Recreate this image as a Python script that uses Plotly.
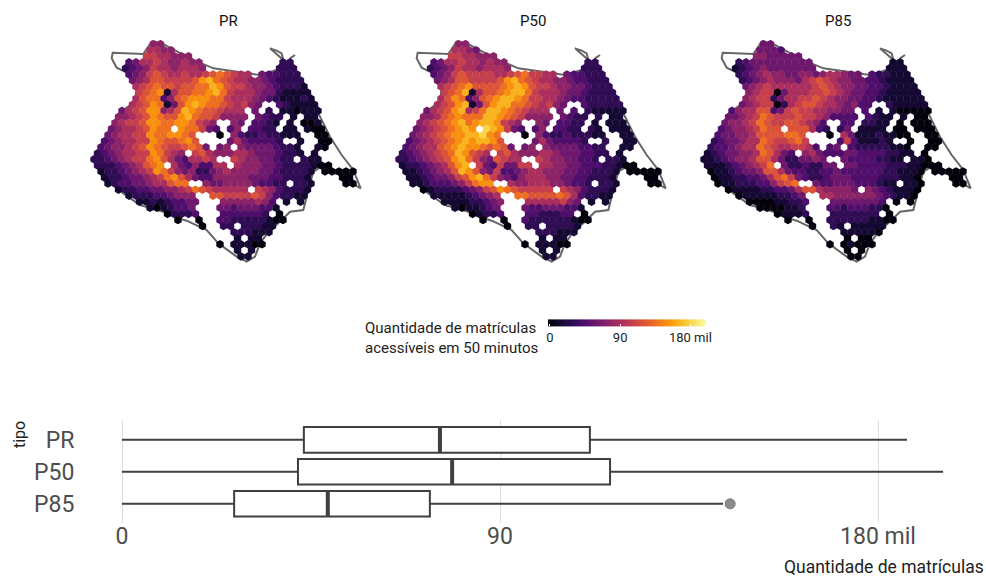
import plotly.graph_objects as go

# Map cells: each row is "first_column:levels", level = hex digit, 1 step = 15 mil, "." = no cell
PR_ROWS = [
"8:55","8:6655","7:7766555","5:34 7:667655655 27:22","4:234576656665 26:222",
"5:345787667667898766 24:433222",
"5:456887777" "8ab98766" "55432222",
"6:6789887889" "9ba8776554" "32221",
"6:789a168899" "ab97666544" "21111",
"6:68993589aa" "a997666543" "211121",
"5:678a9148ab" "a99876754." ".321111",
"4:4678aa568b" "a9887666.4" ".2.110111",
"3:55678a988a" "b98875555." "4322.1.11",
"3:56778aa99a" "a9765..54." "3321.1.001",
"2:456678a99." "a99743.35." "3322.11.100",
"2:456677a99a" "a98...0.53" "22322111..00",
"1:3456677a98" "89a8....46" "433332..1..00",
"1:3455678a98" "778984.45." "544443221..10",
"0:23456677a9" "765.786555" "6654443221.1",
"0:223456779a" "86436676.." "765544322.211",
"0:222345689a" ".64353366." "65554432222100",
"1:12234567a9" "7545224565" "55544322221 33:00000",
"1:1223445679" "a864335555" "5444332221 35:00",
"2:1233445668" "99..544555" "543322.221 36:00",
"3:1223344556" "798766666." "76532221",
"5:1222334555" "..8877778" "7532211",
"6:112123344" ".." ".55555653" ".1.1",
"8:1012334" "..." "443444331",
"10:02223" "..." "3333332.0",
"12:0 15:0 18:3322222100","15:0 18:22.22211","20:222111","20:1.11","18:0 20:11100","20:1.1","21:11",
]
P50_ROWS = [
"8:55","8:6654","7:7766555","5:34 7:667665655 27:22","4:234576656665 26:222",
"5:345787777667897766 24:433222",
"5:456887777" "8ab98766" "55433222",
"6:6789a88889" "aba8776554" "43222",
"6:789b16889a" "bb97666544" "32222",
"6:68a93589ab" "ba97766543" "322222",
"5:678ab148ab" "b99876754." ".322222",
"4:4678ab679b" "ba987666.4" ".3.211111",
"3:55689a999b" "ba9875555." "4322.2.11",
"3:56789ab9ab" "ba765..54." "3322.1.111",
"2:456789aba." "cba743.35." "3322.21.111",
"2:456789aabb" "ca9...0.53" "22322211..11",
"1:3456789aba" "bba8....46" "433332..2..11",
"1:3456689aba" "a98984.45." "544443322..11",
"0:23456789ba" "876.786555" "6654443322.1",
"0:22345678ab" "97548766.." "765544332.221",
"0:12234568ab" ".74374477." "66554433322100",
"1:11234568ba" "8547334566" "55544332221 33:00000",
"1:112344578a" "b975435666" "5544332221 35:00",
"2:1123334579" "aa..655666" "554332.221 36:00",
"3:0122223457" "8a9877777." "76532221",
"5:1111123456" "..9988889" "8632211",
"6:111122345" ".." ".66666754" ".1.1",
"8:1011234" "..." "433444331",
"10:01223" "..." "3322233.0",
"12:0 15:0 18:3222222100","15:0 18:22.22221","20:222111","20:1.11","18:0 20:11100","20:1.1","21:11",
]
P85_ROWS = [
"8:44","8:4443","7:5544444","5:23 7:444444444 27:11","4:123454444444 26:111",
"5:234565544554566544 24:322111",
"5:234565554" "67876554" "43321111",
"6:4567666666" "7876554433" "21111",
"6:5677046667" "7876544332" "11111",
"6:5677246677" "8765544332" "111111",
"5:4567702678" "876654533." ".211111",
"4:3566883478" "77665544.3" ".1.100000",
"3:4456798777" "877653333." "3211.1.00",
"3:4556798778" "87653..33." "2211.0.000",
"2:345567988." "888632.24." "1111.00.000",
"2:3445568888" "998...0.64" "11121100..00",
"1:2344566987" "7897....37" "311121..0..00",
"1:2334566987" "667763.34." "322222110..00",
"0:1234455698" "643.564333" "4433332211.0",
"0:1123455688" "64224454.." "433332211.110",
"0:1112345679" ".42232244." "44333322211000",
"1:0112344588" "6433223343" "33333221110 33:00000",
"1:0112233468" "9743223444" "3333222110 35:00",
"2:0112223357" "89..433444" "333211.110 36:00",
"3:0111122334" "688655554." "54321110",
"5:0111112234" "..6655555" "5432110",
"6:000011223" ".." ".44444443" ".0.0",
"8:0000112" "..." "332333220",
"10:01112" "..." "2222222.0",
"12:0 15:0 18:2222221100","15:0 18:21.11111","20:111110","20:0.00","18:0 20:01000","20:0.0","21:00",
]
LEVEL_STEP = 15

# Municipal boundary, map units
BOUNDARY_X = [540,560,575,580,610,640,680,720,755,790,812,795,770,715,695,670,655,640,600,570,540,510,495,470,440,385,350,330,290,250,220,150,100,40,18,45,100,135,140,115,80,65,68,160,185,215,300,370,470,510,560,580]
BOUNDARY_Y = [55,62,70,90,115,175,240,320,375,420,475,465,440,425,410,425,480,540,545,575,600,640,680,695,680,640,600,590,572,560,545,525,490,440,400,330,240,215,170,130,113,85,68,72,35,40,85,115,130,135,120,90]
STUB_X = [615,600]
STUB_Y = [75,85]

PANELS = ["PR", "P50", "P85"]
TICK_VALS = [0, 90, 180]
TICK_TEXT = ["0", "90", "180 mil"]

# Box plot, mil matriculas
BOX_LABELS = ["P85", "P50", "PR"]
BOX_Q1 = [26.7, 41.9, 43.3]
BOX_MED = [49.0, 78.6, 75.7]
BOX_Q3 = [73.3, 116.2, 111.4]
BOX_LOW = [0, 0, 0]
BOX_HIGH = [143.1, 195.5, 186.9]
OUTLIER_X = [144.8]
OUTLIER_ROW = [0]

W, H = 986, 579
HEX_DX, HEX_DY, HEX_X0, HEX_Y0 = 21, 18.2, 12, 24


def cells(rows):
    xs, ys, vs = [], [], []
    for i, row in enumerate(rows):
        r = i + 1
        for seg in row.split():
            start, vals = seg.split(":")
            for k, ch in enumerate(vals):
                if ch == ".":
                    continue
                c = int(start) + k
                xs.append(HEX_X0 + HEX_DX * c + (HEX_DX / 2 if r % 2 else 0))
                ys.append(HEX_Y0 + HEX_DY * r)
                vs.append(int(ch, 16) * LEVEL_STEP)
    return xs, ys, vs


fig = go.Figure()
layout = {}
for p, (name, rows) in enumerate(zip(PANELS, [PR_ROWS, P50_ROWS, P85_ROWS])):
    sfx = "" if p == 0 else str(p + 1)
    left = 90 + 305 * p
    ax = dict(domain=[left / W, (left + 280) / W], range=[0, 840], visible=False, anchor="y" + sfx)
    ay = dict(domain=[1 - 270 / H, 1 - 30 / H], range=[720, 0], visible=False, anchor="x" + sfx)
    layout["xaxis" + sfx] = ax
    layout["yaxis" + sfx] = ay
    for bx, by in [(BOUNDARY_X + BOUNDARY_X[:1], BOUNDARY_Y + BOUNDARY_Y[:1]), (STUB_X, STUB_Y)]:
        fig.add_trace(go.Scatter(x=bx, y=by, mode="lines", line=dict(color="#666666", width=2),
                                 xaxis="x" + sfx, yaxis="y" + sfx, showlegend=False, hoverinfo="skip"))
    xs, ys, vs = cells(rows)
    marker = dict(symbol="hexagon", size=8.5, color=vs, colorscale="Inferno", cmin=-2.5, cmax=200,
                  line=dict(width=0), showscale=p == 0)
    if p == 0:
        marker["colorbar"] = dict(
            orientation="h", thickness=7, thicknessmode="pixels", len=158, lenmode="pixels",
            x=548 / W, xanchor="left", xref="container", y=1 - 348 / H, yanchor="bottom", yref="container",
            xpad=0, ypad=0, outlinewidth=0, tickvals=TICK_VALS, ticktext=TICK_TEXT,
            ticks="inside", ticklen=2, tickcolor="white", tickwidth=1,
            tickfont=dict(family="Roboto", size=13, color="#222222"))
    fig.add_trace(go.Scatter(x=xs, y=ys, mode="markers", marker=marker, xaxis="x" + sfx, yaxis="y" + sfx,
                             showlegend=False, name=name))

# Box plot
for i, lab in enumerate(BOX_LABELS):
    fig.add_trace(go.Box(y=[i], q1=[BOX_Q1[i]], median=[BOX_MED[i]], q3=[BOX_Q3[i]],
                         lowerfence=[BOX_LOW[i]], upperfence=[BOX_HIGH[i]], orientation="h", width=0.8,
                         whiskerwidth=0, fillcolor="white", line=dict(color="#3f3f3f", width=2),
                         boxpoints=False, xaxis="x4", yaxis="y4", showlegend=False, name=lab))
med_x, med_y = [], []
for i, m in enumerate(BOX_MED):
    med_x += [m, m, None]
    med_y += [i - 0.4, i + 0.4, None]
fig.add_trace(go.Scatter(x=med_x, y=med_y, mode="lines", line=dict(color="#3f3f3f", width=4),
                         xaxis="x4", yaxis="y4", showlegend=False, hoverinfo="skip"))
fig.add_trace(go.Scatter(x=OUTLIER_X, y=OUTLIER_ROW, mode="markers",
                         marker=dict(size=10, color="#8c8c8c", line=dict(color="#7a7a7a", width=1)),
                         xaxis="x4", yaxis="y4", showlegend=False))

layout["xaxis4"] = dict(domain=[100 / W, 985 / W], range=[(100 - 122) / 4.2, (985 - 122) / 4.2], anchor="y4",
                        tickvals=TICK_VALS, ticktext=TICK_TEXT, showgrid=True, gridcolor="#dddddd", gridwidth=1,
                        zeroline=False, showline=False, ticks="", ticklabelstandoff=-3,
                        tickfont=dict(family="Roboto", size=23, color="#4d4d4d"))
layout["yaxis4"] = dict(domain=[1 - 523 / H, 1 - 420 / H], range=[-0.6, 2.62], anchor="x4",
                        tickvals=[0, 1, 2], ticktext=BOX_LABELS, showgrid=False, zeroline=False, showline=False,
                        ticks="outside", ticklen=20, tickcolor="rgba(0,0,0,0)",
                        tickfont=dict(family="Roboto", size=23, color="#4d4d4d"))

ann = []
for p, name in enumerate(PANELS):
    ann.append(dict(text=name, x=(228 + 305 * p) / W, y=1 - 21 / H, xref="paper", yref="paper", showarrow=False,
                    xanchor="center", yanchor="middle", font=dict(family="Roboto", size=15, color="#111111")))
ann.append(dict(text="Quantidade de matrículas<br>acessíveis em 50 minutos", x=363 / W, y=1 - 338 / H,
                xref="paper", yref="paper", showarrow=False, xanchor="left", yanchor="middle", align="left",
                font=dict(family="Roboto", size=15, color="#222222")))
ann.append(dict(text="Quantidade de matrículas", x=986 / W, y=1 - 567 / H, xref="paper", yref="paper",
                showarrow=False, xanchor="right", yanchor="middle",
                font=dict(family="Roboto", size=17.5, color="#222222")))
ann.append(dict(text="tipo", x=19 / W, y=1 - 435 / H, xref="paper", yref="paper", showarrow=False, textangle=-90,
                xanchor="center", yanchor="middle", font=dict(family="Roboto", size=16, color="#222222")))

fig.update_layout(width=W, height=H, margin=dict(l=0, r=0, t=0, b=0, autoexpand=False), paper_bgcolor="white",
                  plot_bgcolor="white", annotations=ann, font=dict(family="Roboto"), **layout)
fig.write_html("out.html", config=dict(displayModeBar=False),
               post_script="document.body.style.margin='0';")
